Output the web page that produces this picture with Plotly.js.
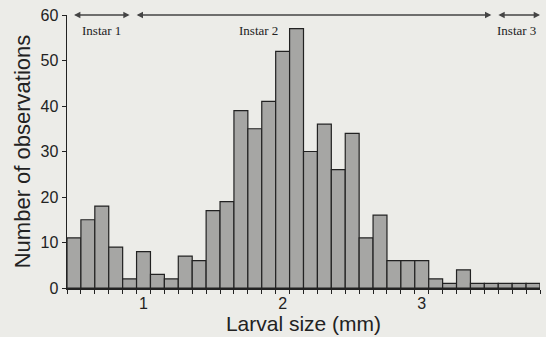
<!DOCTYPE html>
<html>
<head>
<meta charset="utf-8">
<script src="https://cdn.plot.ly/plotly-3.0.1.min.js"></script>
<style>html,body{margin:0;padding:0;background:#ececE8;}#chart{width:546px;height:337px;}</style>
</head>
<body>
<div id="chart"></div>
<script>
// Bin centres (mm) and counts
const sizes = [0.5,0.6,0.7,0.8,0.9,1.0,1.1,1.2,1.3,1.4,1.5,1.6,1.7,1.8,1.9,2.0,2.1,2.2,2.3,2.4,2.5,2.6,2.7,2.8,2.9,3.0,3.1,3.2,3.3,3.4,3.5,3.6,3.7,3.8];
const counts = [11,15,18,9,2,8,3,2,7,6,17,19,39,35,41,52,57,30,36,26,34,11,16,6,6,6,2,1,4,1,1,1,1,1];
const xTicks = [1,2,3];
const yTicks = [0,10,20,30,40,50,60];
// Instar ranges (mm)
const instarLabels = ['Instar 1','Instar 2','Instar 3'];
const instarStart = [0.49,0.94,3.54];
const instarEnd = [0.9,3.5,3.85];
const instarLabelX = [0.695,1.824,3.68];

const annotations = [];
for (let i = 0; i < instarLabels.length; i++) {
  annotations.push({
    x: instarEnd[i], y: 60, ax: instarStart[i], ay: 60,
    xref: 'x', yref: 'y', axref: 'x', ayref: 'y',
    text: '', showarrow: true, arrowside: 'end+start',
    arrowhead: 2, arrowsize: 0.9, arrowwidth: 1.4, arrowcolor: '#444'
  });
  annotations.push({
    x: instarLabelX[i], y: 56.6, xref: 'x', yref: 'y',
    text: instarLabels[i], showarrow: false,
    font: {family: 'Liberation Serif, Times New Roman, serif', size: 13, color: '#222'}
  });
}

const trace = {
  type: 'bar', x: sizes, y: counts, width: 0.1,
  marker: {color: '#a6a6a4', line: {color: '#222', width: 1.2}},
  hoverinfo: 'skip'
};

const layout = {
  width: 546, height: 337,
  margin: {l: 67, r: 6, t: 15, b: 49},
  paper_bgcolor: '#ececE8', plot_bgcolor: '#ececE8',
  bargap: 0, showlegend: false,
  font: {family: 'Liberation Sans, Arial, sans-serif', color: '#222'},
  xaxis: {
    range: [0.45, 3.85], tickvals: xTicks, ticktext: xTicks.map(String),
    ticks: '', showgrid: false, zeroline: false,
    showline: true, linecolor: '#222', linewidth: 1.5,
    tickfont: {size: 16, color: '#222'},
    minor: {tick0: 0.45, dtick: 0.1, ticks: 'outside', ticklen: 4, tickcolor: '#222', tickwidth: 1, showgrid: false},
    title: {text: 'Larval size (mm)', font: {size: 21, color: '#222'}, standoff: 3},
    automargin: false
  },
  yaxis: {
    range: [0, 60], tickvals: yTicks, ticks: 'outside', ticklen: 4, tickwidth: 1, tickcolor: '#222',
    showgrid: false, zeroline: false, showline: true, linecolor: '#222', linewidth: 1.5,
    tickfont: {size: 16, color: '#222'},
    title: {text: 'Number of observations', font: {size: 22, color: '#222'}, standoff: 4},
    automargin: false
  },
  annotations: annotations
};

Plotly.newPlot('chart', [trace], layout, {displayModeBar: false, staticPlot: true});
</script>
</body>
</html>
